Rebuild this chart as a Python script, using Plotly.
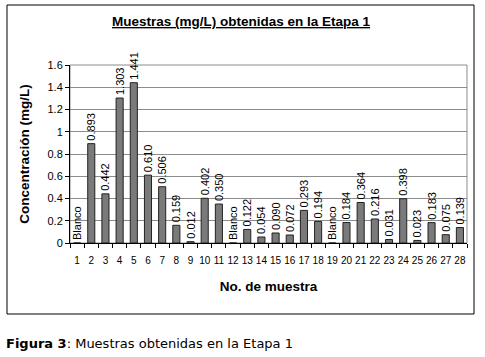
import plotly.graph_objects as go

categories = [str(i) for i in range(1, 29)]
values = [0, 0.893, 0.442, 1.303, 1.441, 0.610, 0.506, 0.159, 0.012, 0.402, 0.350, 0,
          0.122, 0.054, 0.090, 0.072, 0.293, 0.194, 0, 0.184, 0.364, 0.216, 0.031,
          0.398, 0.023, 0.183, 0.075, 0.139]
labels = ["Blanco", "0.893", "0.442", "1.303", "1.441", "0.610", "0.506", "0.159", "0.012",
          "0.402", "0.350", "Blanco", "0.122", "0.054", "0.090", "0.072", "0.293", "0.194",
          "Blanco", "0.184", "0.364", "0.216", "0.031", "0.398", "0.023", "0.183", "0.075",
          "0.139"]
y_ticks = [0, 0.2, 0.4, 0.6, 0.8, 1, 1.2, 1.4, 1.6]

W, H = 485, 357
L, R, T, B = 70, 18, 65, 114
pw, ph = W - L - R, H - T - B

def px(x):
    return (x - L) / pw

def py(y):
    return (H - B - y) / ph

fig = go.Figure(go.Bar(
    x=categories, y=values, text=labels, textposition="outside", textangle=-90,
    textfont=dict(family="Liberation Sans, Arial", size=11, color="black"),
    marker=dict(color="#7a7a7a", line=dict(color="#222222", width=1)),
    cliponaxis=False,
))

fig.update_layout(
    width=W, height=H, margin=dict(l=L, r=R, t=T, b=B),
    paper_bgcolor="white", plot_bgcolor="white", bargap=0.5, showlegend=False,
    font=dict(family="Liberation Sans, Arial", size=11, color="black"),
    uniformtext=dict(minsize=11, mode="show"),
)
fig.update_xaxes(type="category", tickson="boundaries", ticks="outside", ticklen=4,
                 tickcolor="black", showline=True, linecolor="black", linewidth=1,
                 tickfont=dict(size=10), tickangle=0, showgrid=False, ticklabelstandoff=8,
                 title=dict(text="<b>No. de muestra</b>", font=dict(size=13.5), standoff=16))
fig.update_yaxes(range=[0, 1.6], tickvals=y_ticks, ticks="outside", ticklen=4,
                 tickcolor="black", showline=True, linecolor="black", linewidth=1,
                 showgrid=True, gridcolor="#8c8c8c", gridwidth=1, zeroline=False,
                 tickfont=dict(size=11),
                 title=dict(text="<b>Concentración (mg/L)</b>", font=dict(size=13.5), standoff=14))

# plot area border (gray) and outer frame
fig.add_shape(type="rect", xref="paper", yref="paper", x0=0, x1=1, y0=0, y1=1,
              line=dict(color="#8c8c8c", width=1), layer="below")
fig.add_shape(type="rect", xref="paper", yref="paper", x0=px(7), x1=px(474), y0=py(314), y1=py(5),
              line=dict(color="black", width=1))

fig.add_annotation(text="<b><u>Muestras (mg/L) obtenidas en la Etapa 1</u></b>", xref="paper",
                   yref="paper", x=px(241), y=py(21), showarrow=False, xanchor="center",
                   yanchor="middle", font=dict(size=13.5))
fig.add_annotation(text="<b>Figura 3</b>: Muestras obtenidas en la Etapa 1", xref="paper",
                   yref="paper", x=px(4), y=py(343), showarrow=False, xanchor="left",
                   yanchor="middle", font=dict(family="DejaVu Sans", size=13))

fig.write_html("out.html", config={"displayModeBar": False},
               post_script="document.body.style.margin='0';")
